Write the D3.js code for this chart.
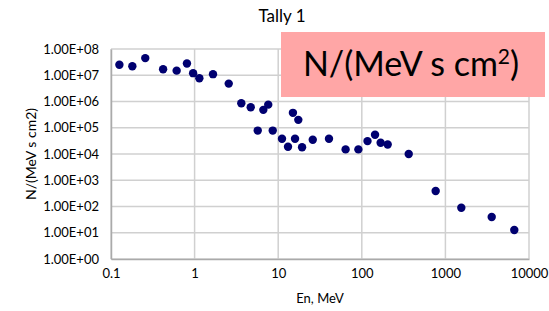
<!DOCTYPE html>
<html>
<head>
<meta charset="utf-8">
<script src="https://cdn.jsdelivr.net/npm/d3@7"></script>
<style>
  body { margin: 0; background: #fff; }
  text { font-family: Lato, "Open Sans", sans-serif; fill: #000; }
</style>
</head>
<body>
<script>
// energies (MeV) and tally values
var energy = [0.126, 0.18, 0.257, 0.42, 0.61, 0.81, 0.96, 1.14, 1.66, 2.56,
  3.62, 4.69, 6.64, 7.6, 5.69, 8.6, 11.1, 13.1, 15.0, 15.9, 17.4, 19.3,
  25.9, 40.5, 64, 91, 117, 144, 168, 204, 364, 765, 1550, 3580, 6670];
var flux = [2.5e7, 2.2e7, 4.5e7, 1.7e7, 1.5e7, 2.8e7, 1.2e7, 7.7e6, 1.1e7, 4.8e6,
  8.6e5, 6.0e5, 4.8e5, 7.6e5, 7.8e4, 7.8e4, 3.8e4, 1.9e4, 3.7e5, 3.8e4, 2.0e5, 1.8e4,
  3.5e4, 3.8e4, 1.5e4, 1.5e4, 3.1e4, 5.4e4, 2.7e4, 2.3e4, 1.0e4, 390, 90, 40, 12.8];
var xTicks = [0.1, 1, 10, 100, 1000, 10000];
var yTicks = [1, 10, 100, 1e3, 1e4, 1e5, 1e6, 1e7, 1e8];

var margin = {top: 49, right: 20, bottom: 52, left: 111};
var width = 529 - margin.left;
var height = 259 - margin.top;

var x = d3.scaleLog().domain([0.1, 10000]).range([0, width]);
var y = d3.scaleLog().domain([1, 1e8]).range([height, 0]);

var svg = d3.select('body').append('svg')
  .attr('width', 549)
  .attr('height', 311);

var main = svg.append('g')
  .attr('transform', 'translate(' + margin.left + ',' + margin.top + ')');

// grid
main.append('g')
  .selectAll('line')
  .data(yTicks)
  .enter().append('line')
  .attr('x1', 0).attr('x2', width)
  .attr('y1', function(d) { return y(d); })
  .attr('y2', function(d) { return y(d); })
  .attr('stroke', '#d0d0d0')
  .attr('stroke-width', 1.5);

main.append('g')
  .selectAll('line')
  .data(xTicks)
  .enter().append('line')
  .attr('y1', 0).attr('y2', height)
  .attr('x1', function(d) { return x(d); })
  .attr('x2', function(d) { return x(d); })
  .attr('stroke', '#d0d0d0')
  .attr('stroke-width', 1.5);

// axes
var xaxis = d3.axisBottom(x).tickValues(xTicks).tickSize(0).tickPadding(10)
  .tickFormat(function(d) { return String(d); });
var gx = main.append('g')
  .attr('transform', 'translate(0,' + height + ')')
  .call(xaxis);
gx.select('.domain').attr('stroke', '#aaa').attr('stroke-width', 1.5);
gx.selectAll('text').style('font-size', '13px').attr('fill', '#000');

var yaxis = d3.axisLeft(y).tickValues(yTicks).tickSize(0).tickPadding(12)
  .tickFormat(function(d) { return d.toExponential(2).toUpperCase().replace(/E\+(\d)$/, 'E+0$1'); });
var gy = main.append('g').call(yaxis);
gy.select('.domain').attr('stroke', '#aaa').attr('stroke-width', 1.5);
gy.selectAll('text').style('font-size', '13px').attr('fill', '#000');

// points
main.append('g')
  .selectAll('circle')
  .data(energy)
  .enter().append('circle')
  .attr('cx', function(d) { return x(d); })
  .attr('cy', function(d, i) { return y(flux[i]); })
  .attr('r', 4.2)
  .attr('fill', '#000070');

// titles
svg.append('text')
  .attr('x', 282).attr('y', 22)
  .style('text-anchor', 'middle')
  .style('font-size', '17px')
  .text('Tally 1');

svg.append('text')
  .attr('x', 320).attr('y', 303)
  .style('text-anchor', 'middle')
  .style('font-size', '13px')
  .text('En, MeV');

svg.append('text')
  .attr('transform', 'translate(36,154) rotate(-90)')
  .style('text-anchor', 'middle')
  .style('font-size', '14px')
  .text('N/(MeV s cm2)');

// pink unit box
svg.append('rect')
  .attr('x', 281).attr('y', 32)
  .attr('width', 264).attr('height', 65)
  .attr('fill', '#ffa6a6');

var unit = svg.append('text')
  .attr('x', 411).attr('y', 76)
  .style('text-anchor', 'middle')
  .style('font-size', '34px');
unit.append('tspan').text('N/(MeV s cm');
unit.append('tspan').attr('dy', -12).style('font-size', '21px').text('2');
unit.append('tspan').attr('dy', 12).text(')');
</script>
</body>
</html>
